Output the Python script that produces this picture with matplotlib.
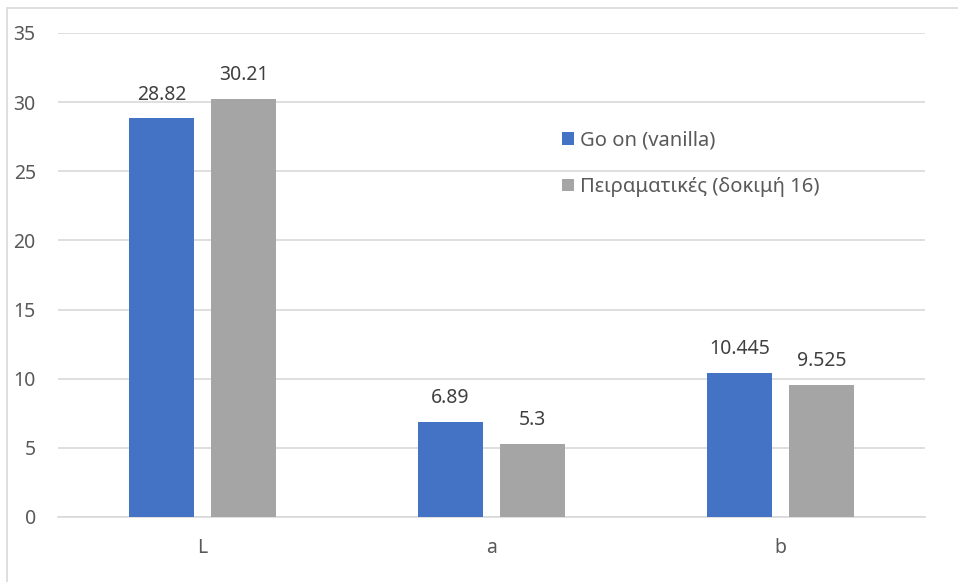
import numpy as np
import matplotlib as mpl
mpl.use('Agg')
import matplotlib.pyplot as plt
from matplotlib.patches import Rectangle

categories = ['L', 'a', 'b']
series_names = ['Go on (vanilla)', 'Πειραματικές (δοκιμή 16)']
vanilla = [28.82, 6.89, 10.445]
trial16 = [30.21, 5.3, 9.525]
labels_vanilla = ['28.82', '6.89', '10.445']
labels_trial16 = ['30.21', '5.3', '9.525']

plt.rcParams['font.family'] = ['Noto Sans', 'DejaVu Sans']

mydpi = 100
fig = plt.figure(figsize=(958 / mydpi, 582 / mydpi), dpi=mydpi)
ax = fig.add_axes([58 / 958, 1 - 517 / 582, (925 - 58) / 958, (517 - 33) / 582])

x = np.arange(len(categories))
w = 0.225
gap = 0.03
b1 = ax.bar(x - w / 2 - gap, vanilla, w, color='#4472C4', label=series_names[0], zorder=3)
b2 = ax.bar(x + w / 2 + gap, trial16, w, color='#A5A5A5', label=series_names[1], zorder=3)
ax.bar_label(b1, labels=labels_vanilla, padding=10, fontsize=14, color='#404040')
ax.bar_label(b2, labels=labels_trial16, padding=10, fontsize=14, color='#404040')

ax.set_xlim(-0.5, 2.5)
ax.set_ylim(0, 35)
ax.set_yticks(np.arange(0, 36, 5))
ax.set_xticks(x)
ax.set_xticklabels(categories)
ax.grid(axis='y', color='#D9D9D9', linewidth=1.2, zorder=0)
ax.tick_params(axis='both', length=0, labelsize=14, labelcolor='#595959')
ax.tick_params(axis='y', pad=16)
ax.tick_params(axis='x', pad=15)
for s in ['top', 'right', 'left']:
    ax.spines[s].set_visible(False)
ax.spines['bottom'].set_color('#D9D9D9')
ax.spines['bottom'].set_linewidth(1.2)

ax.legend(loc='upper left', bbox_to_anchor=(0.56, 0.835), frameon=False,
          fontsize=14.5, labelcolor='#595959', handlelength=0.6, handleheight=0.6,
          handletextpad=0.3, labelspacing=1.3)

fig.patches.append(Rectangle((7 / 958, -0.1), 1.2, 1 - 8 / 582 + 0.1, transform=fig.transFigure,
                             fill=False, edgecolor='#D9D9D9', linewidth=1.2))

plt.savefig('out.png', dpi=mydpi)
plt.close(fig='all')
